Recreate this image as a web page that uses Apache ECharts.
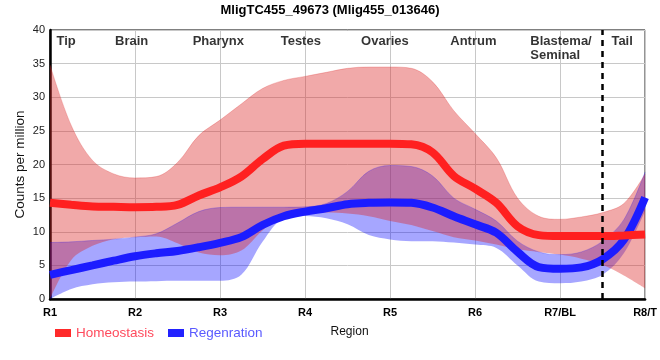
<!DOCTYPE html>
<html>
<head>
<meta charset="utf-8">
<script src="https://cdn.jsdelivr.net/npm/echarts@6/dist/echarts.min.js"></script>
<style>html,body{margin:0;padding:0;background:#fff;}#c{width:660px;height:360px;}</style>
</head>
<body>
<div id="c"></div>
<script>
var titleText = 'MligTC455_49673 (Mlig455_013646)';
var xTickLabels = ['R1','R2','R3','R4','R5','R6','R7/BL','R8/T'];
var regionNames = ['Tip','Brain','Pharynx','Testes','Ovaries','Antrum','Blastema/\nSeminal','Tail'];
var regionPos = [0.19, 0.96, 1.98, 2.95, 3.94, 4.98, 5.65, 6.73];
var xs = [0,0.25,0.5,0.75,1,1.25,1.5,1.75,2,2.25,2.5,2.75,3,3.25,3.5,3.75,4,4.25,4.5,4.75,5,5.25,5.5,5.75,6,6.25,6.5,6.75,7];
var homeoMean = [14.3,14.0,13.75,13.7,13.65,13.7,14.0,15.4,16.6,18.2,20.8,22.8,23.1,23.1,23.1,23.1,23.1,23.0,21.8,18.3,16.4,14.3,10.8,9.5,9.35,9.35,9.35,9.45,9.6];
var homeoUpper = [34.8,25.8,20.6,18.6,18.0,18.2,20.3,24.3,26.6,29.0,31.3,32.5,33.1,33.7,34.3,34.5,34.5,34.3,32.3,28.0,24.6,21.0,15.0,12.3,11.85,12.2,12.85,14.2,18.6];
var homeoLower = [0.0,5.8,7.9,8.9,9.2,9.3,8.3,6.9,6.5,7.2,10.2,12.4,12.8,12.85,12.7,12.3,11.6,11.0,10.1,9.2,8.7,8.1,7.4,7.0,6.6,6.0,5.1,3.5,1.6];
var regenMean = [3.6,4.3,5.0,5.7,6.35,6.8,7.15,7.7,8.35,9.2,11.0,12.3,13.0,13.5,14.1,14.3,14.35,14.3,13.6,12.3,11.1,9.85,7.0,4.75,4.5,4.7,5.9,8.8,15.1];
var regenUpper = [8.4,8.5,8.7,8.9,9.2,9.7,11.3,13.0,13.6,13.65,13.65,13.65,13.7,14.2,16.0,19.0,19.85,19.7,18.3,15.0,13.35,11.6,8.6,7.0,6.6,7.0,8.6,11.8,18.9];
var regenLower = [0,1.5,2.2,2.5,2.6,2.65,2.7,2.7,2.7,3.6,8.5,12.0,12.35,12.0,11.1,9.5,8.85,8.6,8.6,8.4,8.1,7.6,5.0,2.6,2.35,2.6,3.6,6.8,13.1];
var dividerX = 6.5;

var cats = xs.map(function(x){ return String(x); });
function diffs(up, lo){ return up.map(function(u,i){ return +(u - lo[i]).toFixed(3); }); }

var FONT = 'Liberation Sans, Arial, sans-serif';
var chart = echarts.init(document.getElementById('c'), null, {renderer:'canvas'});
var option = {
  animation: false,
  backgroundColor: '#fff',
  title: {
    text: titleText, left: 'center', top: -1,
    textStyle: {fontFamily: FONT, fontSize: 13, fontWeight: 'bold', color: '#000'}
  },
  legend: {
    left: 50, top: 321, itemGap: 14, itemWidth: 16, itemHeight: 8, icon: 'rect',
    data: [
      {name: 'Homeostasis', textStyle: {color: '#ff4a5c'}},
      {name: 'Regenration', textStyle: {color: '#5a5aff'}}
    ],
    textStyle: {fontFamily: FONT, fontSize: 13.5}
  },
  grid: {left: 50, right: 10, top: 30, bottom: 61, show: true, borderColor: '#000', borderWidth: 1},
  xAxis: [{
    type: 'category', data: cats, boundaryGap: false,
    name: 'Region', nameLocation: 'middle', nameGap: 27,
    nameTextStyle: {fontFamily: FONT, fontSize: 12, color: '#111', padding: [0,0,0,4]},
    axisLine: {show: true, lineStyle: {color: '#000', width: 2.5}},
    axisTick: {show: false},
    splitLine: {show: true, interval: 3, lineStyle: {color: '#c8c8c8', width: 1}},
    axisLabel: {
      interval: 3,
      fontFamily: FONT, fontSize: 11, fontWeight: 'bold', color: '#000', margin: 8,
      formatter: function(v){ return xTickLabels[Math.round(parseFloat(v))] || ''; }
    }
  }, {
    type: 'value', min: 0, max: 7, show: false, position: 'bottom',
    splitLine: {show: false}
  }],
  yAxis: {
    type: 'value', min: 0, max: 40, interval: 5,
    name: 'Counts per million', nameLocation: 'middle', nameGap: 23, nameMoveOverlap: false,
    nameTextStyle: {fontFamily: FONT, fontSize: 13.5, color: '#111'},
    axisLine: {show: true, lineStyle: {color: '#000', width: 2.5}},
    axisTick: {show: false},
    splitLine: {show: true, lineStyle: {color: '#c8c8c8', width: 1}},
    axisLabel: {fontFamily: FONT, fontSize: 11, color: '#222', margin: 5}
  },
  series: [
    {name: 'regenLow', type: 'line', stack: 'rb', data: regenLower, smooth: 0.35,
     symbol: 'none', lineStyle: {width: 0, opacity: 0}, silent: true},
    {name: 'regenBand', type: 'line', stack: 'rb', data: diffs(regenUpper, regenLower), smooth: 0.35,
     symbol: 'none', lineStyle: {width: 0.6, color: 'rgba(0,0,255,0.35)'},
     areaStyle: {color: 'rgba(0,0,255,0.35)', opacity: 1}, silent: true},
    {name: 'Regenration', type: 'line', data: regenMean, smooth: 0.35, symbol: 'none',
     itemStyle: {color: '#2222ff'}, lineStyle: {width: 8, color: '#1c1cff'}},
    {name: 'homeoLow', type: 'line', stack: 'hb', data: homeoLower, smooth: 0.35,
     symbol: 'none', lineStyle: {width: 0, opacity: 0}, silent: true},
    {name: 'homeoBand', type: 'line', stack: 'hb', data: diffs(homeoUpper, homeoLower), smooth: 0.35,
     symbol: 'none', lineStyle: {width: 0.6, color: 'rgba(220,40,40,0.4)'},
     areaStyle: {color: 'rgba(220,40,40,0.4)', opacity: 1}, silent: true},
    {name: 'Homeostasis', type: 'line', data: homeoMean, smooth: 0.35, symbol: 'none',
     itemStyle: {color: '#ff2a2a'}, lineStyle: {width: 8, color: '#ff2020'}},
    {name: 'regions', type: 'scatter', xAxisIndex: 1, symbolSize: 0, silent: true,
     data: regionNames.map(function(n,i){
       var isLeft = n.indexOf('\n') >= 0;
       return {value: [regionPos[i], 39.3], name: n,
         label: {align: isLeft ? 'left' : 'center'}};
     }),
     label: {show: true, position: 'inside', verticalAlign: 'top', formatter: '{b}',
       fontFamily: FONT, fontSize: 13, fontWeight: 'bold', color: '#000', lineHeight: 14},
     markLine: {silent: true, symbol: 'none', label: {show: false},
       lineStyle: {color: '#000', type: [6, 5], width: 2.5},
       data: [{xAxis: dividerX}]}}
  ]
};
chart.setOption(option);
</script>
</body>
</html>
